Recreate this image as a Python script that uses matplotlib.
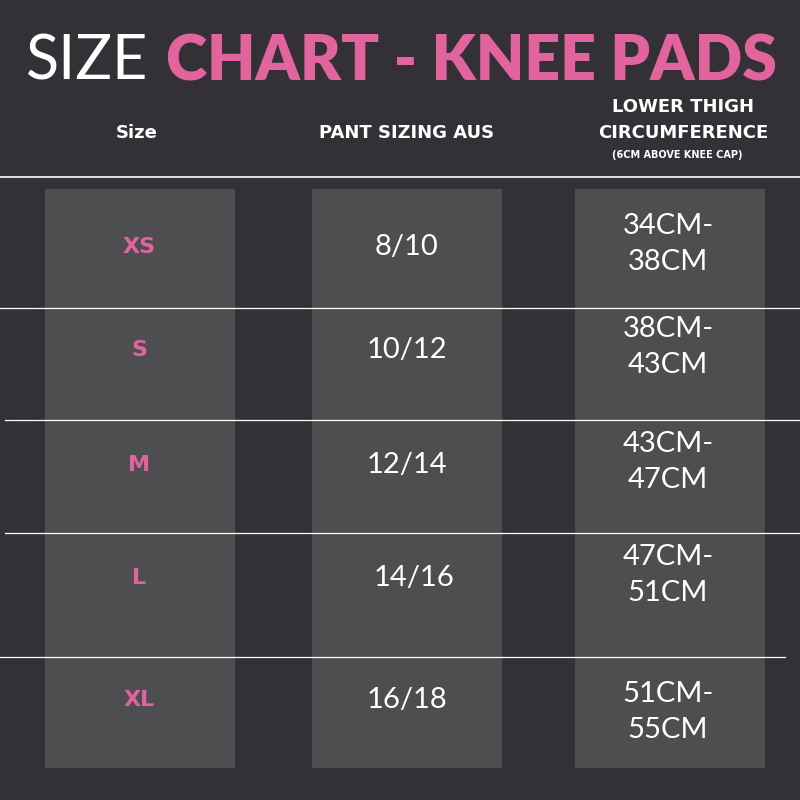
import matplotlib
matplotlib.use("Agg")
import matplotlib.pyplot as plt
from matplotlib.patches import Rectangle

sizes = ["XS", "S", "M", "L", "XL"]
pant_sizing = ["8/10", "10/12", "12/14", "14/16", "16/18"]
thigh = ["34CM-\n38CM", "38CM-\n43CM", "43CM-\n47CM", "47CM-\n51CM", "51CM-\n55CM"]
headers = ["Size", "PANT SIZING AUS", "LOWER THIGH\nCIRCUMFERENCE"]

BG = "#333135"
COL = "#4e4d4f"
PINK = "#e2649f"

fig = plt.figure(figsize=(8, 8), dpi=100, facecolor=BG)
ax = fig.add_axes([0, 0, 1, 1])
ax.set_xlim(0, 800); ax.set_ylim(800, 0); ax.axis("off")
ax.set_facecolor(BG)

for x0 in [45, 312, 575]:
    ax.add_patch(Rectangle((x0, 189), 190, 579, color=COL, lw=0))

ax.text(26, 62, "SIZE", color="white", fontsize=44, fontfamily="Lato", fontweight="normal", va="center", ha="left")
ax.text(166, 62, "CHART - KNEE PADS", color=PINK, fontsize=45, fontfamily="Lato", fontweight="heavy", va="center", ha="left")

hf = dict(color="white", fontsize=13, fontweight="bold", fontfamily="DejaVu Sans", ha="center", va="center")
ax.text(137, 133, headers[0], **hf)
ax.text(407, 133, headers[1], **hf)
ax.text(683, 120, headers[2], linespacing=1.5, **hf)
ax.text(677, 155, "(6CM ABOVE KNEE CAP)", color="white", fontsize=7, fontweight="bold", fontfamily="DejaVu Sans", ha="center", va="center")

ax.plot([0, 800], [177, 177], color="white", lw=1.2)
for y, x0, x1 in [(308, 0, 800), (420, 5, 800), (533, 5, 800), (657, 0, 785)]:
    ax.plot([x0, x1], [y, y], color="white", lw=0.9)

centers = [247, 350, 465, 578, 700]
for i, yc in enumerate(centers):
    ax.text(139, yc, sizes[i], color=PINK, fontsize=16, fontweight="bold", fontfamily="DejaVu Sans", ha="center", va="center")
    ax.text(407 + (7 if i == 3 else 0), yc, pant_sizing[i], color="white", fontsize=21, fontfamily="Lato", ha="center", va="center")
    ax.text(668, yc - 3 + (15 if i == 4 else 0), thigh[i], color="white", fontsize=21, fontfamily="Lato", ha="center", va="center", linespacing=1.45)

fig.savefig("out.png", dpi=100, facecolor=BG)
